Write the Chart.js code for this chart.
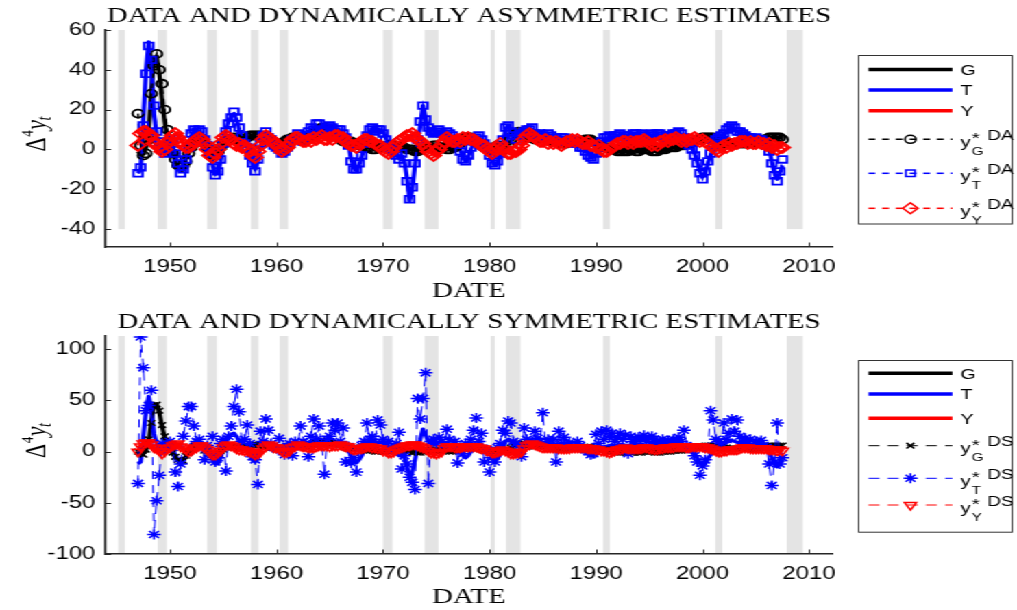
<!DOCTYPE html>
<html>
<head>
<meta charset="utf-8">
<title>Data and dynamic estimates</title>
<script src="https://cdn.jsdelivr.net/npm/chart.js@4.4.1/dist/chart.umd.min.js"></script>
<style>
  html, body { margin: 0; padding: 0; background: #fff; overflow: hidden; }
  /* the reference figure is stretched sideways, so the charts are drawn narrow and widened */
  #wrap { width: 742px; height: 610px; transform: scaleX(1.3706); transform-origin: 0 0; }
  canvas { display: block; }
</style>
</head>
<body>
<div id="wrap">
  <canvas id="chartTop" width="742" height="305"></canvas>
  <canvas id="chartBottom" width="742" height="305"></canvas>
</div>
<script>
// quarterly observations, first one is 1947Q1
const startYear = 1947;

const xTicks = [1950, 1960, 1970, 1980, 1990, 2000, 2010];
const yTicksTop = [-40, -20, 0, 20, 40, 60];
const yTicksBottom = [-100, -50, 0, 50, 100];

// NBER recessions (shaded)
const recStart = [1945.15, 1948.85, 1953.5, 1957.6, 1960.3, 1970.0, 1973.9, 1980.1, 1981.55, 1990.65, 2001.2, 2007.9];
const recEnd   = [1945.77, 1949.7, 1954.4, 1958.3, 1961.1, 1970.9, 1975.2, 1980.5, 1982.9, 1991.3, 2001.86, 2009.4];

// data: G
const seriesG = [
  -1, -3, -2, 1,      // 1947
  10, 30, 46, 47,
  38, 25, 14, 6,
  2, -2, -6, -9,      // 1950
  -10, -8, -5, -2,
  2, 4, 5, 5,
  4, 2, 0, -2,
  -4, -3, -2, 0,
  2, 4, 5, 6,         // 1955
  6, 5, 4, 4,
  4, 5, 6, 7,
  7, 7, 6, 6,
  6, 5, 4, 3,
  2, 2, 3, 4,         // 1960
  5, 6, 6, 6,
  6, 6, 5, 5,
  5, 6, 7, 8,
  9, 10, 11, 11,
  10, 9, 8, 7,        // 1965
  6, 5, 4, 4,
  4, 4, 3, 3,
  3, 2, 2, 1,
  1, 0, 0, 0,
  0, 1, 1, 2,         // 1970
  2, 2, 1, 1,
  1, 1, 0, 0,
  0, -1, -1, 0,
  0, 1, 1, 1,
  2, 2, 1, 1,         // 1975
  1, 0, 0, 0,
  2, 3, 5, 6,
  6, 6, 5, 4,
  3, 2, 1, 1,
  1, 0, 1, 2,         // 1980
  2, 1, 0, 2,
  4, 6, 8, 8,
  8, 8, 7, 6,
  5, 5, 6, 6,
  6, 6, 5, 5,         // 1985
  5, 4, 4, 3,
  3, 3, 3, 4,
  4, 4, 3, 3,
  4, 5, 5, 4,
  3, 2, 2, 2,         // 1990
  2, 1, 0, 0,
  0, -1, -1, -1,
  -1, -1, -1, 0,
  -1, -1, 0, 0,
  0, 0, -1, -1,       // 1995
  -1, 0, 0, 0,
  0, 1, 1, 1,
  1, 2, 2, 3,
  3, 4, 4, 5,
  5, 6, 6, 6,         // 2000
  6, 6, 5, 4,
  4, 4, 3, 3,
  3, 3, 3, 3,
  3, 3, 3, 3,
  3, 3, 4, 4,         // 2005
  5, 6, 6, 6,
  6, 6, 6
];

// data: T
const seriesT = [
  -12, -10, 15, 40,
  54, 42, 18, 7,
  3, 1, 0, 3,
  4, 2, -3, -8,
  -11, -9, -4, 2,
  7, 9, 10, 9,
  8, 6, 3, -1,
  -8, -12, -12, -6,
  2, 10, 14, 17,
  18, 15, 10, 6,
  4, 2, -2, -8,
  -10, -6, 2, 6,
  8, 7, 5, 3,
  2, 0, -1, -2,
  0, 2, 4, 6,
  7, 6, 5, 6,
  8, 10, 11, 12,
  12, 10, 9, 10,
  11, 12, 10, 9,
  9, 8, 7, 3,
  -5, -9, -11, -8,
  -4, 2, 6, 9,
  10, 10, 9, 9,
  9, 6, 3, 1,
  0, -2, -4, -3,
  -6, -14, -26, -20,
  -8, 4, 12, 22,
  16, 10, 8, 7,
  8, 9, 9, 8,
  8, 7, 6, 5,
  4, 0, -4, -6,
  -4, 0, 3, 5,
  6, 5, 4, 2,
  -2, -6, -8, -7,
  -3, 4, 10, 12,
  10, 8, 6, 6,
  7, 8, 9, 10,
  10, 9, 8, 7,
  6, 6, 7, 6,
  6, 5, 5, 5,
  5, 6, 5, 4,
  3, 2, 2, 1,
  0, -2, -4, -4,
  -3, 0, 3, 5,
  5, 6, 6, 6,
  6, 7, 7, 6,
  6, 6, 7, 7,
  7, 7, 6, 6,
  6, 7, 7, 7,
  7, 6, 6, 6,
  6, 7, 7, 8,
  7, 6, 5, 3,
  1, -2, -6, -11,
  -14, -12, -7, -3,
  1, 4, 5, 6,
  7, 9, 10, 11,
  10, 9, 8, 7,
  6, 6, 5, 5,
  5, 5, 4, 4,
  3, 0, -6, -12,
  -15, -12, -8
];

// data: Y
const seriesY = [
  4, 6, 8, 10,
  8, 6, 4, 2,
  0, -2, -1, 2,
  4, 6, 8, 7,
  5, 3, 1, 0,
  1, 3, 5, 6,
  6, 4, 1, -2,
  -3, -3, -1, 2,
  5, 7, 7, 6,
  4, 2, 2, 2,
  2, 1, 0, -2,
  -3, -2, 1, 4,
  6, 7, 5, 4,
  4, 2, 0, -1,
  0, 2, 4, 6,
  7, 6, 5, 4,
  4, 4, 5, 5,
  6, 6, 6, 5,
  5, 6, 6, 7,
  7, 6, 5, 4,
  3, 2, 2, 2,
  3, 4, 5, 5,
  4, 4, 3, 2,
  1, 0, -1, -1,
  0, 2, 3, 4,
  5, 6, 7, 7,
  7, 6, 5, 4,
  2, 0, -1, -2,
  -2, -1, 1, 3,
  6, 5, 5, 4,
  4, 5, 5, 5,
  5, 6, 5, 5,
  4, 3, 2, 1,
  0, -1, -1, 0,
  2, 2, 1, -1,
  -2, -2, -2, -1,
  1, 4, 6, 8,
  8, 7, 6, 5,
  4, 4, 4, 4,
  4, 3, 3, 3,
  3, 3, 4, 4,
  4, 4, 4, 4,
  4, 3, 3, 2,
  2, 2, 1, 0,
  -1, -1, 0, 1,
  2, 3, 3, 4,
  3, 3, 3, 3,
  3, 4, 4, 4,
  3, 3, 2, 2,
  3, 4, 4, 4,
  4, 5, 5, 5,
  5, 4, 4, 5,
  5, 5, 5, 5,
  5, 5, 4, 3,
  2, 1, 0, 0,
  1, 2, 2, 2,
  2, 3, 3, 4,
  4, 4, 3, 3,
  3, 3, 3, 3,
  3, 3, 2, 2,
  1, 1, 2
];

// dynamically asymmetric estimates
const estGDA = [
  18, 2, -3, -2,
  5, 28, 42, 48,
  40, 33, 20, 10,
  4, -2, -5, -8,
  -9, -8, -6, -2,
  1, 3, 4, 5,
  5, 3, 1, -1,
  -3, -3, -1, 1,
  3, 4, 5, 5,
  6, 5, 5, 4,
  5, 6, 7, 7,
  7, 7, 7, 6,
  6, 5, 4, 3,
  3, 2, 3, 4,
  5, 5, 6, 6,
  6, 6, 5, 5,
  6, 7, 8, 9,
  10, 11, 11, 10,
  10, 9, 8, 6,
  5, 4, 4, 4,
  4, 3, 3, 2,
  2, 2, 1, 1,
  0, 0, 1, 1,
  1, 1, 2, 2,
  2, 1, 1, 1,
  1, 0, 0, 0,
  -1, -1, 0, 0,
  1, 1, 1, 2,
  2, 1, 1, 1,
  0, 0, 1, 1,
  2, 3, 4, 6,
  6, 6, 5, 4,
  3, 2, 1, 1,
  0, 1, 1, 2,
  1, 1, 0, 2,
  5, 7, 8, 9,
  8, 8, 7, 6,
  6, 5, 6, 7,
  6, 6, 5, 4,
  4, 4, 3, 3,
  3, 3, 4, 4,
  4, 4, 4, 4,
  5, 5, 5, 4,
  3, 2, 2, 1,
  1, 1, 0, 0,
  -1, -1, -1, -1,
  -1, 0, 0, -1,
  -1, 0, 0, 0,
  0, -1, -1, -1,
  0, 0, 0, 1,
  1, 1, 1, 2,
  2, 2, 3, 3,
  4, 4, 5, 5,
  6, 6, 6, 6,
  6, 5, 5, 4,
  4, 3, 3, 3,
  3, 3, 3, 3,
  3, 3, 3, 4,
  3, 4, 4, 5,
  5, 6, 6, 6,
  6, 6, 5
];

const estTDA = [
  -12, -9, 12, 38,
  52, 45, 22, 9,
  4, 0, -2, 1,
  5, 3, -2, -7,
  -12, -10, -5, 1,
  8, 10, 9, 10,
  9, 5, 2, -2,
  -9, -13, -11, -5,
  3, 9, 13, 16,
  19, 16, 11, 7,
  3, 1, -3, -7,
  -11, -5, 3, 7,
  9, 6, 5, 2,
  1, 0, -2, -1,
  1, 3, 5, 5,
  8, 7, 4, 7,
  9, 11, 10, 13,
  13, 9, 10, 11,
  12, 11, 9, 10,
  10, 8, 6, 2,
  -6, -10, -10, -7,
  -3, 3, 7, 10,
  11, 9, 10, 10,
  8, 5, 2, 0,
  -1, -3, -5, -2,
  -7, -16, -25, -19,
  -7, 5, 14, 22,
  15, 11, 9, 8,
  9, 10, 8, 7,
  9, 8, 7, 5,
  3, -1, -5, -6,
  -3, 1, 4, 6,
  7, 5, 3, 1,
  -3, -7, -8, -6,
  -2, 5, 11, 12,
  9, 7, 5, 7,
  8, 9, 10, 10,
  11, 8, 7, 8,
  7, 6, 8, 7,
  5, 6, 4, 6,
  6, 5, 4, 5,
  3, 3, 1, 1,
  -1, -3, -4, -5,
  -2, 1, 4, 6,
  6, 7, 6, 7,
  7, 8, 6, 7,
  7, 6, 8, 8,
  7, 8, 7, 6,
  7, 8, 7, 8,
  8, 7, 6, 7,
  7, 8, 8, 9,
  8, 6, 4, 2,
  0, -3, -7, -12,
  -15, -11, -6, -2,
  2, 5, 6, 7,
  8, 10, 11, 12,
  11, 9, 9, 8,
  7, 6, 6, 5,
  6, 5, 5, 4,
  2, -1, -7, -13,
  -16, -11, -5
];

const estYDA = [
  2, 8, 9, 9,
  7, 7, 3, 3,
  1, -1, 0, 3,
  5, 7, 8, 6,
  4, 2, 1, 1,
  2, 4, 5, 6,
  5, 3, 0, -3,
  -4, -2, 0, 3,
  6, 7, 6, 5,
  3, 2, 3, 1,
  2, 0, -1, -3,
  -4, -1, 2, 5,
  7, 6, 5, 3,
  3, 1, -1, 0,
  1, 3, 5, 6,
  6, 5, 4, 4,
  5, 4, 6, 5,
  6, 7, 5, 5,
  6, 5, 7, 7,
  6, 6, 4, 3,
  2, 2, 1, 3,
  4, 5, 5, 4,
  4, 3, 2, 2,
  0, -1, -2, -1,
  1, 3, 4, 5,
  6, 7, 7, 8,
  6, 5, 4, 3,
  1, -1, -2, -3,
  -1, 0, 2, 4,
  6, 5, 4, 4,
  5, 4, 6, 5,
  6, 5, 5, 4,
  3, 2, 2, 0,
  -1, -2, 0, 1,
  3, 1, 0, -2,
  -2, -1, -1, 0,
  2, 5, 7, 8,
  7, 6, 5, 4,
  4, 5, 3, 4,
  3, 4, 3, 2,
  3, 4, 4, 5,
  4, 5, 4, 3,
  3, 4, 2, 2,
  1, 2, 0, -1,
  -1, 0, 1, 2,
  3, 3, 4, 4,
  3, 4, 3, 4,
  4, 4, 5, 4,
  3, 2, 3, 2,
  4, 4, 5, 4,
  5, 5, 6, 5,
  4, 5, 4, 5,
  5, 6, 5, 4,
  5, 4, 3, 2,
  1, 0, -1, 1,
  2, 1, 3, 2,
  3, 3, 4, 4,
  4, 3, 4, 3,
  3, 4, 3, 3,
  2, 3, 1, 2,
  0, 1, 1
];

// dynamically symmetric estimates
const estGDS = [
  0, -2, -3, 2,
  12, 28, 44, 46,
  40, 26, 15, 7,
  3, -1, -5, -8,
  -9, -9, -4, -1,
  2, 5, 5, 4,
  4, 1, 0, -2,
  -3, -4, -2, 1,
  2, 4, 6, 6,
  5, 5, 4, 5,
  4, 5, 6, 7,
  7, 6, 6, 5,
  6, 5, 4, 4,
  2, 2, 3, 4,
  5, 6, 5, 6,
  6, 5, 5, 5,
  5, 6, 7, 8,
  9, 10, 10, 11,
  10, 8, 8, 7,
  6, 5, 4, 3,
  4, 4, 3, 2,
  3, 2, 1, 1,
  1, 0, 0, 1,
  0, 1, 1, 2,
  2, 2, 1, 1,
  1, 1, 0, -1,
  0, -1, -1, 0,
  0, 1, 2, 1,
  2, 2, 1, 1,
  1, 0, 0, 1,
  1, 2, 4, 5,
  6, 6, 5, 4,
  3, 2, 1, 1,
  1, 0, 1, 1,
  2, 1, 1, 2,
  4, 6, 7, 8,
  8, 7, 7, 6,
  5, 5, 6, 6,
  6, 5, 5, 5,
  5, 4, 4, 3,
  3, 3, 3, 4,
  4, 4, 3, 3,
  4, 5, 5, 4,
  3, 2, 2, 2,
  2, 1, 0, 0,
  0, -1, -1, -1,
  -1, -1, -1, 0,
  -1, -1, 0, 0,
  0, 0, -1, -1,
  -1, 0, 0, 0,
  0, 1, 1, 1,
  1, 2, 2, 3,
  3, 4, 4, 5,
  5, 6, 6, 6,
  6, 6, 5, 4,
  4, 4, 3, 3,
  3, 3, 3, 3,
  3, 3, 3, 3,
  3, 3, 4, 4,
  5, 6, 6, 6,
  6, 6, 6
];

const estTDS = [
  -31, 112, 82, 40,
  45, 60, -81, -48,
  -23, 8, 3, 5,
  10, 4, -20, -34,
  -12, 15, 30, 44,
  44, 25, 10, 12,
  4, -8, 6, -2,
  15, -10, -6, 8,
  12, -19, 15, 25,
  44, 61, 39, 10,
  12, 26, 8, -5,
  -8, -32, 20, 10,
  32, 21, 8, 4,
  3, 13, 2, -3,
  5, 8, -4, 10,
  6, 25, 10, 8,
  -5, 15, 32, 12,
  25, 8, -22, 12,
  15, 28, 21, 28,
  10, 23, -10, 5,
  -11, -6, -20, 2,
  6, 10, 28, 12,
  15, 8, 31, 26,
  12, 5, 10, 4,
  2, 8, 19, -17,
  -4, -12, -25, -30,
  -37, 52, 32, 52,
  77, -31, 10, 12,
  8, 14, 10, 6,
  22, 12, 6, 10,
  -11, 4, -2, 8,
  6, 12, 21, 33,
  10, 18, -10, 2,
  -20, -6, -10, 4,
  8, 21, 18, 30,
  28, 10, 8, 6,
  -5, 23, 12, 8,
  10, 20, 13, 10,
  38, 8, 12, 6,
  12, -10, 20, 8,
  14, 6, 9, 5,
  4, 10, 6, 3,
  2, 0, -3, -2,
  17, 8, 20, 12,
  21, 15, 18, 10,
  14, 18, 12, 16,
  -2, 15, 10, 12,
  14, 12, 16, 10,
  13, 15, 12, 9,
  10, 12, 8, 11,
  9, 12, 10, 14,
  10, 21, 6, 4,
  2, -4, -10, -23,
  -14, -8, 3, 40,
  31, 12, 10, 8,
  28, 12, 18, 32,
  20, 31, 15, 10,
  13, 8, 12, 6,
  10, 8, 11, 6,
  4, -12, -33, -10,
  28, -12, -6
];

const estYDS = [
  0, 5, 8, 9,
  9, 7, 4, 3,
  1, -2, 0, 3,
  4, 6, 7, 8,
  5, 4, 2, 0,
  1, 3, 4, 6,
  6, 4, 2, -1,
  -3, -3, -1, 1,
  4, 6, 7, 6,
  5, 3, 2, 2,
  1, 1, 0, -1,
  -3, -2, 0, 3,
  5, 7, 6, 4,
  4, 3, 1, -1,
  0, 1, 4, 5,
  7, 6, 5, 5,
  4, 4, 4, 5,
  6, 6, 6, 6,
  5, 6, 6, 6,
  7, 6, 5, 5,
  3, 2, 2, 3,
  3, 4, 5, 5,
  4, 4, 3, 3,
  1, 1, -1, -1,
  0, 2, 3, 4,
  5, 6, 6, 7,
  7, 6, 5, 4,
  3, 1, -1, -1,
  -2, -1, 0, 3,
  5, 5, 5, 4,
  4, 4, 5, 5,
  5, 5, 5, 5,
  4, 3, 3, 1,
  1, -1, -1, 0,
  1, 2, 1, 0,
  -2, -2, -1, -1,
  0, 3, 6, 7,
  8, 7, 6, 5,
  4, 4, 4, 4,
  4, 4, 3, 3,
  3, 3, 3, 4,
  4, 4, 4, 4,
  4, 3, 3, 3,
  2, 2, 1, 1,
  0, -1, 0, 1,
  2, 2, 3, 4,
  3, 3, 3, 3,
  3, 3, 4, 4,
  3, 3, 2, 2,
  3, 3, 4, 4,
  4, 4, 5, 5,
  5, 5, 4, 4,
  5, 5, 5, 5,
  5, 4, 4, 3,
  2, 1, 0, 0,
  1, 1, 2, 2,
  2, 2, 3, 4,
  4, 4, 3, 3,
  3, 3, 3, 3,
  3, 2, 2, 2,
  1, 2, 1
];

const BLACK = '#000000', BLUE = '#0000ff', RED = '#ff0000';
const AXIS = '#262626';
const serif = '"Liberation Serif", "Times New Roman", serif';
const sans = '"Liberation Sans", Arial, sans-serif';
const X_AXIS_H = 40;

function toPoints(arr) {
  return arr.map((v, i) => ({ x: startYear + i / 4, y: v }));
}

function dataLine(arr, color) {
  return {
    data: toPoints(arr), borderColor: color, borderWidth: 3.2, pointRadius: 0,
    borderJoinStyle: 'round', fill: false
  };
}

function estLine(arr, color, width, dash, style, radius, rot, pw) {
  return {
    data: toPoints(arr), borderColor: color, borderWidth: width, borderDash: dash,
    pointStyle: style, pointRadius: radius, pointRotation: rot || 0,
    pointBorderColor: color, pointBackgroundColor: 'rgba(0,0,0,0)', pointBorderWidth: pw || 1.5,
    fill: false
  };
}

function drawMarker(ctx, style, x, y, r, color) {
  ctx.save();
  ctx.setLineDash([]);
  ctx.strokeStyle = color;
  ctx.lineWidth = 1.5;
  ctx.beginPath();
  if (style === 'circle') {
    ctx.arc(x, y, r, 0, Math.PI * 2);
  } else if (style === 'rect') {
    const h = r * Math.SQRT1_2;
    ctx.rect(x - h, y - h, 2 * h, 2 * h);
  } else if (style === 'rectRot') {
    ctx.moveTo(x, y - r); ctx.lineTo(x + r, y); ctx.lineTo(x, y + r); ctx.lineTo(x - r, y); ctx.closePath();
  } else if (style === 'crossRot') {
    const h = r * Math.SQRT1_2;
    ctx.moveTo(x - h, y - h); ctx.lineTo(x + h, y + h);
    ctx.moveTo(x - h, y + h); ctx.lineTo(x + h, y - h);
  } else if (style === 'star') {
    const h = r * Math.SQRT1_2;
    ctx.moveTo(x - r, y); ctx.lineTo(x + r, y);
    ctx.moveTo(x, y - r); ctx.lineTo(x, y + r);
    ctx.moveTo(x - h, y - h); ctx.lineTo(x + h, y + h);
    ctx.moveTo(x - h, y + h); ctx.lineTo(x + h, y - h);
  } else if (style === 'triangle') {
    // pointing down
    ctx.moveTo(x, y + r);
    ctx.lineTo(x + r * 0.866, y - r / 2);
    ctx.lineTo(x - r * 0.866, y - r / 2);
    ctx.closePath();
  }
  ctx.stroke();
  ctx.restore();
}

const decorPlugin = {
  id: 'decor',
  beforeDatasetsDraw(chart) {
    const o = chart.options.plugins.decor;
    const { ctx, scales: { x, y } } = chart;
    ctx.save();
    ctx.fillStyle = '#e4e4e4';
    const yTop = y.getPixelForValue(o.barHigh);
    const yBot = y.getPixelForValue(o.barLow);
    recStart.forEach((s, i) => {
      const x0 = x.getPixelForValue(s), x1 = x.getPixelForValue(recEnd[i]);
      ctx.fillRect(x0, yTop, x1 - x0, yBot - yTop);
    });
    ctx.restore();
  },
  afterDraw(chart) {
    const o = chart.options.plugins.decor;
    const { ctx, chartArea: a, scales: { x, y } } = chart;
    ctx.save();
    // inward ticks
    ctx.strokeStyle = AXIS;
    ctx.lineWidth = 1;
    ctx.beginPath();
    xTicks.forEach(t => {
      const px = Math.round(x.getPixelForValue(t)) + 0.5;
      ctx.moveTo(px, a.bottom); ctx.lineTo(px, a.bottom - 4.5);
    });
    o.yTicks.forEach(t => {
      const py = Math.round(y.getPixelForValue(t)) + 0.5;
      ctx.moveTo(a.left, py); ctx.lineTo(a.left + 4.5, py);
    });
    ctx.stroke();

    // title and x label
    const cx = (a.left + a.right) / 2;
    ctx.fillStyle = '#000';
    ctx.textAlign = 'center';
    ctx.textBaseline = 'alphabetic';
    ctx.font = '21px ' + serif;
    ctx.fillText(o.title, cx, o.titleY);
    ctx.fillText('DATE', cx, o.dateY);

    // y label: Delta^4 y_t, rotated
    ctx.save();
    ctx.translate(32.8, (a.top + a.bottom) / 2 + 13);
    ctx.rotate(-Math.PI / 2);
    ctx.textAlign = 'left';
    let px = 0;
    ctx.font = '22px ' + serif;
    ctx.fillText('\u0394', px, 0);
    px += ctx.measureText('\u0394').width + 0.5;
    ctx.font = '13px ' + serif;
    ctx.fillText('4', px, -9);
    px += ctx.measureText('4').width + 0.5;
    ctx.font = 'italic 22px ' + serif;
    ctx.fillText('y', px, 0);
    px += ctx.measureText('y').width - 0.5;
    ctx.font = 'italic 14px ' + serif;
    ctx.fillText('t', px, 4);
    ctx.restore();

    // legend
    const L = o.legend;
    ctx.strokeStyle = '#333';
    ctx.lineWidth = 1;
    ctx.setLineDash([]);
    ctx.strokeRect(626.5, L.top + 0.5, 112, L.bottom - L.top);
    const lx0 = 633.6, lx1 = 694.9, lxm = (lx0 + lx1) / 2, tx = 700.7;
    L.items.forEach((it, i) => {
      const ry = L.rows[i];
      ctx.save();
      ctx.strokeStyle = it.color;
      if (it.marker) {
        ctx.lineWidth = it.width;
        ctx.setLineDash(it.dash);
      } else {
        ctx.lineWidth = 3.5;
      }
      ctx.beginPath();
      ctx.moveTo(lx0, ry); ctx.lineTo(lx1, ry);
      ctx.stroke();
      ctx.restore();
      if (it.marker) drawMarker(ctx, it.marker, lxm, ry, it.radius, it.color);

      ctx.fillStyle = '#000';
      ctx.textAlign = 'left';
      ctx.textBaseline = 'alphabetic';
      if (!it.sub) {
        ctx.font = '14.5px ' + sans;
        ctx.fillText(it.text, tx, ry + 5.2);
      } else {
        ctx.font = '15px ' + sans;
        ctx.fillText('y', tx, ry + 7.5);
        ctx.fillText('*', tx + 8.3, ry + 4);
        ctx.font = '11px ' + sans;
        ctx.fillText(it.sub, tx + 8.3, ry + 15.5);
        ctx.font = '14px ' + sans;
        ctx.fillText(it.sup, tx + 19.5, ry + 0.7);
      }
    });
    ctx.restore();
  }
};

function makeChart(id, datasets, cfg) {
  return new Chart(document.getElementById(id), {
    type: 'line',
    data: { datasets: datasets },
    options: {
      responsive: false,
      animation: false,
      events: [],
      layout: { padding: { left: 0, right: 134.2, top: cfg.top, bottom: 305 - cfg.bottom - X_AXIS_H } },
      plugins: {
        legend: { display: false },
        tooltip: { enabled: false },
        decor: cfg.decor
      },
      scales: {
        x: {
          type: 'linear', min: 1943.9, max: 2012.25,
          afterBuildTicks: s => { s.ticks = xTicks.map(v => ({ value: v })); },
          afterFit: s => { s.height = X_AXIS_H; },
          grid: { display: false, drawTicks: false },
          border: { display: true, color: AXIS, width: 1.5, z: 1 },
          ticks: {
            color: '#000', padding: 10, maxRotation: 0, minRotation: 0, autoSkip: false,
            font: { family: sans, size: 17.5 }, callback: v => String(v)
          }
        },
        y: {
          min: cfg.yMin, max: cfg.yMax,
          afterBuildTicks: s => { s.ticks = cfg.decor.yTicks.map(v => ({ value: v })); },
          afterFit: s => { s.width = 76.6; },
          grid: { display: false, drawTicks: false },
          border: { display: true, color: AXIS, width: 1.5, z: 1 },
          ticks: {
            color: '#000', padding: 7,
            font: { family: sans, size: 17.5 }, callback: v => String(v)
          }
        }
      }
    },
    plugins: [decorPlugin]
  });
}

// top: data + dynamically asymmetric estimates (first dataset is drawn on top)
makeChart('chartTop', [
  estLine(estYDA, RED, 1.5, [5, 5], 'rectRot', 5.5, 0, 1.8),
  estLine(estTDA, BLUE, 1.5, [5, 5], 'rect', 4.7, 0, 1.8),
  estLine(estGDA, BLACK, 1.5, [5, 5], 'circle', 4, 0, 1.8),
  dataLine(seriesY, RED),
  dataLine(seriesT, BLUE),
  dataLine(seriesG, BLACK)
], {
  top: 30, bottom: 247, yMin: -49, yMax: 60,
  decor: {
    title: 'DATA AND DYNAMICALLY ASYMMETRIC ESTIMATES',
    titleY: 21.5, dateY: 296.7, yTicks: yTicksTop, barLow: -40, barHigh: 60,
    legend: {
      top: 55, bottom: 223.5,
      rows: [69.5, 90, 110.7, 139.3, 173.3, 208.3],
      items: [
        { text: 'G', color: BLACK },
        { text: 'T', color: BLUE },
        { text: 'Y', color: RED },
        { sub: 'G', sup: 'DA', color: BLACK, marker: 'circle', radius: 4, width: 1.5, dash: [5, 5] },
        { sub: 'T', sup: 'DA', color: BLUE, marker: 'rect', radius: 4.7, width: 1.5, dash: [5, 5] },
        { sub: 'Y', sup: 'DA', color: RED, marker: 'rectRot', radius: 5.5, width: 1.5, dash: [5, 5] }
      ]
    }
  }
});

// bottom: data + dynamically symmetric estimates
makeChart('chartBottom', [
  estLine(estYDS, RED, 1, [8, 6], 'triangle', 5, 180),
  estLine(estTDS, BLUE, 1, [8, 6], 'star', 5),
  estLine(estGDS, BLACK, 1, [8, 6], 'crossRot', 4),
  dataLine(seriesY, RED),
  dataLine(seriesT, BLUE),
  dataLine(seriesG, BLACK)
], {
  top: 31, bottom: 249, yMin: -100, yMax: 113,
  decor: {
    title: 'DATA AND DYNAMICALLY SYMMETRIC ESTIMATES',
    titleY: 23, dateY: 298, yTicks: yTicksBottom, barLow: -100, barHigh: 113,
    legend: {
      top: 55, bottom: 226.7,
      rows: [68.3, 89, 113.3, 140.7, 173.3, 200],
      items: [
        { text: 'G', color: BLACK },
        { text: 'T', color: BLUE },
        { text: 'Y', color: RED },
        { sub: 'G', sup: 'DS', color: BLACK, marker: 'crossRot', radius: 4, width: 1, dash: [8, 6] },
        { sub: 'T', sup: 'DS', color: BLUE, marker: 'star', radius: 5, width: 1, dash: [8, 6] },
        { sub: 'Y', sup: 'DS', color: RED, marker: 'triangle', radius: 5, width: 1, dash: [8, 6] }
      ]
    }
  }
});
</script>
</body>
</html>
